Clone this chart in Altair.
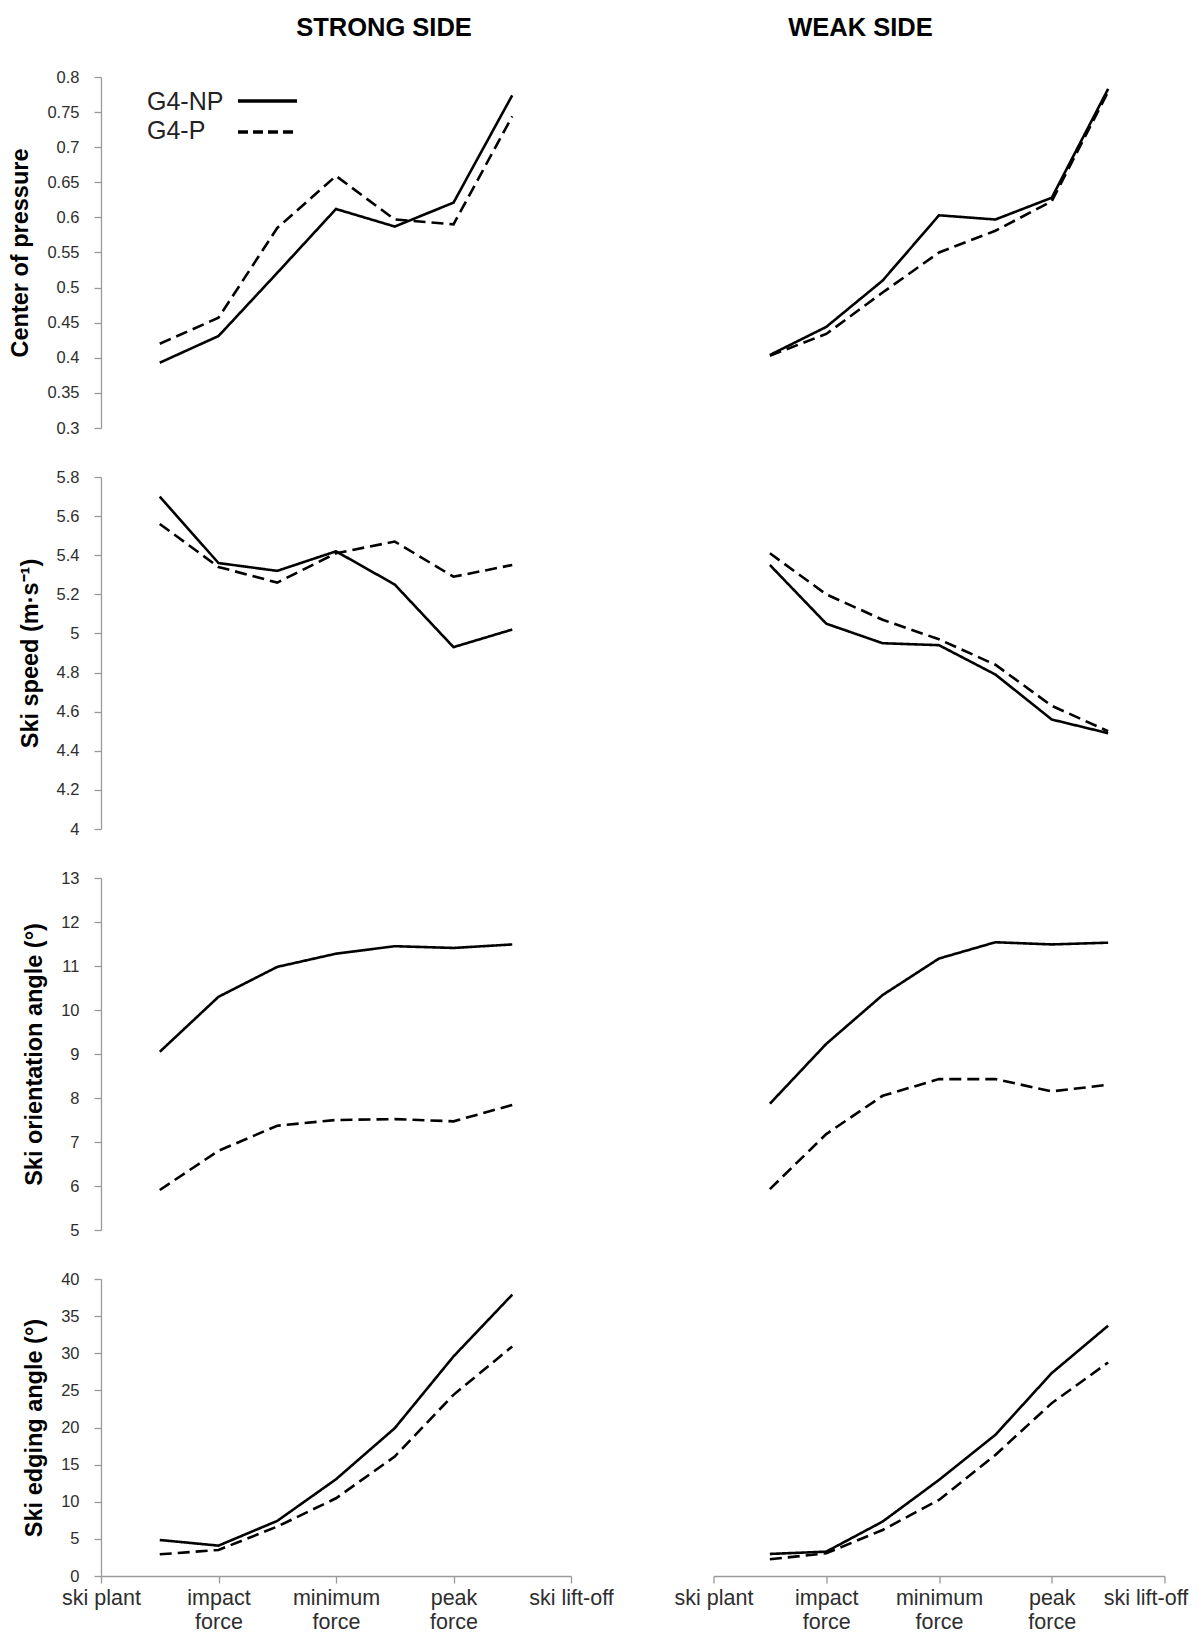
import json
import altair as alt
import pandas as pd

# ---------------- data ----------------
phase_labels = [["ski plant"], ["impact", "force"], ["minimum", "force"], ["peak", "force"], ["ski lift-off"]]
phase_ticks = [0, 1, 2, 3, 4]
sample_pos = [0.5, 1.0, 1.5, 2.0, 2.5, 3.0, 3.5]
groups = ["G4-NP", "G4-P"]
sides = ["STRONG SIDE", "WEAK SIDE"]
var_titles = ["Center of pressure", "Ski speed (m·s⁻¹)", "Ski orientation angle (°)", "Ski edging angle (°)"]

cop_strong_np = [0.393, 0.431, 0.521, 0.612, 0.587, 0.621, 0.774]
cop_strong_p = [0.420, 0.457, 0.585, 0.659, 0.597, 0.590, 0.744]
cop_weak_np = [0.404, 0.444, 0.510, 0.603, 0.597, 0.628, 0.783]
cop_weak_p = [0.403, 0.434, 0.493, 0.550, 0.581, 0.623, 0.779]

speed_strong_np = [5.70, 5.36, 5.32, 5.42, 5.25, 4.93, 5.02]
speed_strong_p = [5.56, 5.34, 5.26, 5.41, 5.47, 5.29, 5.35]
speed_weak_np = [5.35, 5.05, 4.95, 4.94, 4.79, 4.56, 4.49]
speed_weak_p = [5.41, 5.20, 5.07, 4.97, 4.84, 4.63, 4.50]

orient_strong_np = [9.05, 10.30, 10.98, 11.28, 11.45, 11.41, 11.49]
orient_strong_p = [5.91, 6.80, 7.37, 7.50, 7.52, 7.47, 7.84]
orient_weak_np = [7.87, 9.23, 10.34, 11.17, 11.54, 11.49, 11.53]
orient_weak_p = [5.93, 7.18, 8.05, 8.43, 8.43, 8.15, 8.30]

edge_strong_np = [4.85, 4.09, 7.42, 13.03, 19.91, 29.57, 37.89]
edge_strong_p = [2.92, 3.51, 6.65, 10.47, 16.09, 24.40, 30.92]
edge_weak_np = [2.97, 3.28, 7.33, 12.94, 19.01, 27.33, 33.71]
edge_weak_p = [2.25, 3.06, 6.20, 10.25, 16.31, 23.28, 28.76]

cop_ticks = [0.3, 0.35, 0.4, 0.45, 0.5, 0.55, 0.6, 0.65, 0.7, 0.75, 0.8]
speed_ticks = [4, 4.2, 4.4, 4.6, 4.8, 5, 5.2, 5.4, 5.6, 5.8]
orient_ticks = [5, 6, 7, 8, 9, 10, 11, 12, 13]
edge_ticks = [0, 5, 10, 15, 20, 25, 30, 35, 40]

rows = [
    (cop_strong_np, cop_strong_p, cop_weak_np, cop_weak_p, cop_ticks, ".2~f"),
    (speed_strong_np, speed_strong_p, speed_weak_np, speed_weak_p, speed_ticks, ".1~f"),
    (orient_strong_np, orient_strong_p, orient_weak_np, orient_weak_p, orient_ticks, "d"),
    (edge_strong_np, edge_strong_p, edge_weak_np, edge_weak_p, edge_ticks, "d"),
]

# ---------------- styling ----------------
FONT = "Liberation Sans"
AX_GRAY = "#9a9a9a"
LABEL_COL = "#2e2e2e"
LEFT_W, RIGHT_W = 470, 451
ROW_H = [351, 352, 352, 297]
ORIGIN_X, ORIGIN_Y = 93, 69          # plot origin inside the svg (page margin is 8)
SVG_W, SVG_H = 1185, 1625            # fits the 1201x1641 window exactly

label_expr = json.dumps(phase_labels) + "[datum.value]"


def frame(np_vals, p_vals):
    recs = []
    for g, vals in zip(groups, [np_vals, p_vals]):
        for x, v in zip(sample_pos, vals):
            recs.append({"pos": x, "value": v, "group": g})
    return pd.DataFrame(recs)


def panel(np_vals, p_vals, ticks, fmt, ytitle, left, bottom, width, height):
    df = frame(np_vals, p_vals)
    if bottom:
        last_shift = 0 if left else -19   # keep the last label inside the page
        xaxis = alt.Axis(values=phase_ticks, labelExpr=label_expr, title=None,
                         domainColor=AX_GRAY, tickColor=AX_GRAY, tickSize=7,
                         domainWidth=1.3, tickWidth=1.3, labelFontSize=21.5,
                         labelFont=FONT, labelColor=LABEL_COL, labelPadding=4,
                         labelLineHeight=24, labelFlush=False, labelOverlap=False,
                         labelOffset={"condition": {"test": "datum.value == 4", "value": last_shift},
                                      "value": 0},
                         grid=False)
    else:
        xaxis = None
    if left:
        yaxis = alt.Axis(values=ticks, format=fmt, title=ytitle,
                         domainColor=AX_GRAY, tickColor=AX_GRAY, tickSize=7,
                         domainWidth=1.3, tickWidth=1.3, labelFontSize=16.5,
                         labelFont=FONT, labelColor=LABEL_COL, labelPadding=15,
                         titleFont=FONT, titleFontSize=23.5, titleFontWeight="bold",
                         titleColor="#000000", titlePadding=14, grid=False,
                         labelOverlap=False)
    else:
        yaxis = None
    lines = alt.Chart(df).mark_line(color="#000000", strokeWidth=2.6).encode(
        x=alt.X("pos:Q", scale=alt.Scale(domain=[0, 4], nice=False, zero=False), axis=xaxis),
        y=alt.Y("value:Q", scale=alt.Scale(domain=[ticks[0], ticks[-1]], nice=False, zero=False), axis=yaxis),
        strokeDash=alt.StrokeDash("group:N", scale=alt.Scale(domain=groups, range=[[1, 0], [12, 6]]), legend=None),
        detail="group:N",
    )
    return lines.properties(width=width, height=height)


def side_title(text, xpix):
    return alt.Chart(pd.DataFrame({"t": [text]})).mark_text(
        font=FONT, fontSize=25.5, fontWeight="bold", color="#000000",
        align="center", baseline="alphabetic"
    ).encode(text="t:N", x=alt.value(xpix), y=alt.value(-41))


def legend_layers():
    layers = []
    ys_text = [33, 62]
    ys_line = [24, 55]
    dashes = [[1, 0], [10, 5]]
    for g, yt, yl, d in zip(groups, ys_text, ys_line, dashes):
        layers.append(alt.Chart(pd.DataFrame({"t": [g]})).mark_text(
            font=FONT, fontSize=25, color="#222222", align="left", baseline="alphabetic"
        ).encode(text="t:N", x=alt.value(46), y=alt.value(yt)))
        layers.append(alt.Chart(pd.DataFrame({"t": [g]})).mark_rule(
            color="#000000", strokeWidth=3.3, strokeDash=d
        ).encode(x=alt.value(137), x2=alt.value(196), y=alt.value(yl)))
    return layers


charts = []
for i, (sn, sp, wn, wp, ticks, fmt) in enumerate(rows):
    bottom = i == len(rows) - 1
    left = panel(sn, sp, ticks, fmt, var_titles[i], True, bottom, LEFT_W, ROW_H[i])
    right = panel(wn, wp, ticks, fmt, var_titles[i], False, bottom, RIGHT_W, ROW_H[i])
    if i == 0:
        left = alt.layer(left, side_title(sides[0], 283), *legend_layers())
        right = alt.layer(right, side_title(sides[1], 147))
    charts.extend([left, right])

chart = alt.concat(
    *charts, columns=2, spacing={"row": 49, "column": 142.5}, bounds="flush", align="each"
).properties(
    autosize=alt.AutoSizeParams(type="none"),
    padding={"left": ORIGIN_X, "top": ORIGIN_Y,
             "right": SVG_W - ORIGIN_X, "bottom": SVG_H - ORIGIN_Y},
).configure(background="white").configure_view(stroke="transparent", strokeWidth=0)

chart.save("out.html", embed_options={"renderer": "svg", "actions": False})
